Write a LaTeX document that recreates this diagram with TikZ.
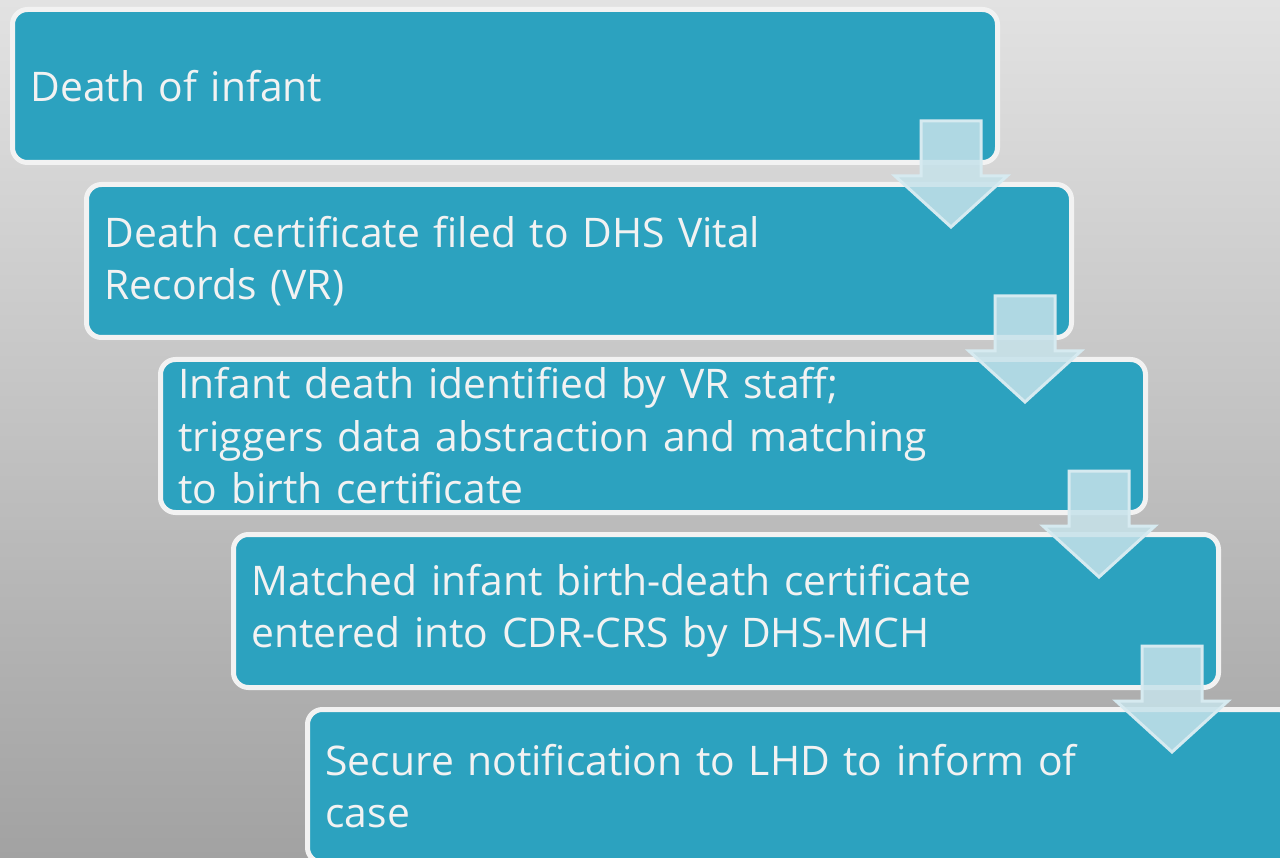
\documentclass[tikz,border=0pt]{standalone}
\usepackage{fontspec}
\setmainfont{Open Sans}
\usetikzlibrary{calc}

\definecolor{bgtop}{HTML}{E2E2E2}
\definecolor{bgbot}{HTML}{A2A2A2}
\definecolor{boxteal}{HTML}{2CA2BF}
\definecolor{boxrim}{HTML}{F2F2F2}
\definecolor{arrowfill}{HTML}{C6E2EA}
\definecolor{arrowrim}{HTML}{D6EAF0}

\tikzset{
  stepbox/.style={draw=boxrim, fill=boxteal, line width=5pt, rounded corners=15pt,
    anchor=north west, minimum width=985pt, minimum height=153pt,
    text width=949pt, inner xsep=18pt, inner ysep=0pt, align=left,
    text=boxrim, font=\fontsize{40.8}{52.5}\selectfont},
  downarrow/.style={fill=arrowfill, fill opacity=0.85, draw=arrowrim, line width=3pt, line join=miter}
}

% block arrow hanging from the lower right corner of a box
\newcommand\flowarrow[1]{
  \draw[downarrow] ($(#1.south east)+(-79,-44)$) -- ++(60,0) -- ++(0,55) -- ++(26,0)
    -- ++(-56,51) -- ++(-56,-51) -- ++(26,0) -- cycle;
}

\begin{document}
\begin{tikzpicture}[x=1pt, y=-1pt]
  \shade[top color=bgtop, bottom color=bgbot] (0,0) rectangle (1280,858);
  \useasboundingbox (0,0) rectangle (1280,858);

  \node[stepbox] (b1) at (10,7) {Death of infant};
  \node[stepbox] (b2) at (84,182) {Death certificate filed to DHS Vital\\Records (VR)};
  \node[stepbox] (b3) at (158,357) {Infant death identified by VR staff;\\triggers data abstraction and matching\\to birth certificate};
  \node[stepbox] (b4) at (231,532) {Matched infant birth-death certificate\\entered into CDR-CRS by DHS-MCH};
  \node[stepbox] (b5) at (305,707) {Secure notification to LHD to inform of\\case};

  \flowarrow{b1}
  \flowarrow{b2}
  \flowarrow{b3}
  \flowarrow{b4}
\end{tikzpicture}
\end{document}
